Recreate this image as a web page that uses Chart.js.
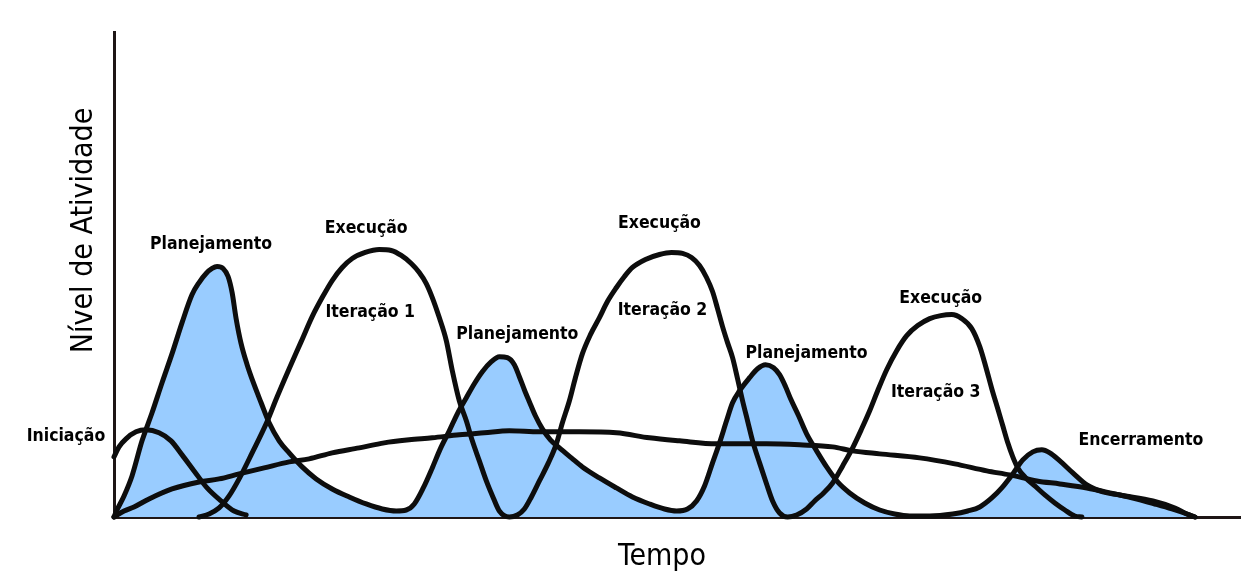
<!DOCTYPE html>
<html>
<head>
<meta charset="utf-8">
<script src="https://cdn.jsdelivr.net/npm/chart.js@4"></script>
<style>
  body { margin: 0; background: #fff; }
  canvas { display: block; }
</style>
</head>
<body>
<canvas id="myChart" width="1248" height="574"></canvas>
<script>
// DATA - x is time, y is activity level

// iniciacao
const iniciacao = [
  [115,60],[120,70],[127,78],[137,85],[147,87],[160,84],[172,76],[183,62],
  [195,46],[208,29],[222,16],[235,6],[247,2]
];

// planejamento 1 -> 2 -> 3 -> encerramento (one continuous drawn line, filled)
const planejamento = [
  [115,0],[117,5],[125,21],[133,41],[143,76],[153,104],[163,134],[173,163],
  [183,194],[193,222],[200,234],[207,243],[213,248],[218,250],[224,248],
  [229,240],[233,224],[237,198],[242,173],[248,152],[255,132],[262,114],
  [270,94],[280,76],[290,64],[303,50],[317,38],[333,28],[350,20],[367,13],
  [383,8],[397,6],[407,7],[415,13],[424,29],[433,49],[441,68],[450,86],
  [458,103],[467,119],[475,133],[483,145],[492,155],[500,160],[508,159],
  [515,152],[520,140],[525,127],[530,115],[536,101],[543,88],[551,77],
  [560,69],[572,59],[583,50],[600,39],[617,29],[633,20],[650,13],[665,8],
  [677,6],[688,8],[697,16],[705,31],[713,54],[720,74],[727,96],[733,114],
  [740,126],[750,139],[758,148],[766,152],[774,149],[780,142],[786,130],
  [791,118],[799,101],[807,83],[817,66],[827,50],[838,35],[850,24],[865,14],
  [880,7],[895,3],[910,1],[930,1],[953,3],[968,6],[980,10],[992,19],
  [1002,29],[1013,43],[1023,57],[1033,65],[1042,67],[1050,64],[1060,56],
  [1073,44],[1087,32],[1103,25],[1120,22],[1137,18],[1155,13],[1172,8],
  [1187,3],[1195,0]
];

// execucao - iteracao 1 -> 2 -> 3
const execucao = [
  [200,0],[210,3],[220,9],[230,21],[240,38],[253,64],[267,93],[278,120],
  [290,148],[302,175],[313,200],[323,219],[333,236],[343,249],[353,258],
  [366,264],[380,267],[392,266],[402,261],[412,253],[420,244],[427,233],
  [433,219],[440,199],[447,176],[453,146],[460,116],[467,96],[473,76],
  [480,56],[487,36],[494,19],[500,6],[510,0],[518,2],[525,8],[532,20],
  [540,36],[549,54],[557,73],[563,94],[570,116],[576,139],[583,163],
  [591,182],[600,199],[608,215],[617,229],[625,240],[633,249],[646,257],
  [660,262],[672,264],[683,263],[692,259],[700,251],[707,239],[713,225],
  [718,208],[723,190],[728,174],[733,159],[738,138],[743,116],[748,96],
  [753,76],[760,54],[767,33],[773,16],[780,4],[788,0],[797,2],[807,8],
  [815,16],[824,24],[833,34],[843,51],[853,69],[862,88],[870,106],[878,126],
  [887,147],[897,166],[907,181],[918,191],[930,198],[941,201],[952,202],
  [962,198],[972,188],[980,170],[986,150],[992,128],[998,108],[1003,91],
  [1008,74],[1013,60],[1018,49],[1026,39],[1035,31],[1045,22],[1055,14],
  [1065,7],[1075,1],[1082,0]
];

// long flat line across the whole project
const controle = [
  [115,0],[125,6],[135,10],[150,18],[173,28],[200,35],[220,38],[240,43],
  [265,49],[290,55],[310,58],[333,64],[360,69],[385,74],[410,77],[433,79],
  [460,82],[485,84],[510,86],[540,85],[580,85],[617,84],[650,79],[680,76],
  [717,73],[767,73],[800,72],[833,70],[853,66],[880,63],[920,59],[955,53],
  [987,46],[1010,42],[1037,36],[1060,33],[1087,29],[1120,22],[1153,16],
  [1175,9],[1187,3],[1195,0]
];

// text labels on the drawing
const labelTexts = ['Iniciação','Planejamento','Execução','Iteração 1','Planejamento',
  'Execução','Iteração 2','Planejamento','Execução','Iteração 3','Encerramento'];
const labelX = [67,212,367,371,518,660,663,807,941,936,1141];
const labelY = [80,272,288,204,182,293,206,163,218,124,76];

const xTitle = 'Tempo';
const yTitle = 'Nível de Atividade';
// END OF DATA //

const FONT = '"DejaVu Sans Condensed", "Liberation Sans Narrow", sans-serif';
const toPts = arr => arr.map(p => ({x: p[0], y: p[1]}));

function lineSet(label, pts, fill) {
  return {
    label: label,
    data: toPts(pts),
    borderColor: '#0d0d0d',
    borderWidth: 5,
    borderCapStyle: 'round',
    borderJoinStyle: 'round',
    pointRadius: 0,
    cubicInterpolationMode: 'monotone',
    fill: fill ? 'origin' : false,
    backgroundColor: '#99ccff',
    clip: false
  };
}

// draws the words on the picture
const textPlugin = {
  id: 'textPlugin',
  afterDatasetsDraw(chart) {
    const ctx = chart.ctx;
    const xs = chart.scales.x, ys = chart.scales.y;
    ctx.save();
    ctx.fillStyle = '#000';
    ctx.textAlign = 'center';
    ctx.textBaseline = 'middle';
    ctx.font = 'bold 17.5px ' + FONT;
    labelTexts.forEach((t, i) => {
      ctx.fillText(t, xs.getPixelForValue(labelX[i]), ys.getPixelForValue(labelY[i]));
    });
    // axis titles
    ctx.font = '30px ' + FONT;
    ctx.fillText(xTitle, (chart.chartArea.left + chart.chartArea.right) / 2 - 15, chart.chartArea.bottom + 40);
    ctx.translate(chart.chartArea.left - 30, ys.getPixelForValue(286));
    ctx.rotate(-Math.PI / 2);
    ctx.fillText(yTitle, 0, 0);
    ctx.restore();
  }
};

const axisOpts = (min, max) => ({
  type: 'linear',
  min: min,
  max: max,
  ticks: { display: false },
  grid: { display: false, drawTicks: false },
  border: { display: true, color: '#1e1616', width: 3 }
});

const config = {
  type: 'line',
  data: {
    datasets: [
      lineSet('Planejamento', planejamento, true),
      lineSet('Iniciação', iniciacao, false),
      lineSet('Execução', execucao, false),
      lineSet('Controle', controle, false)
    ]
  },
  options: {
    responsive: false,
    animation: false,
    layout: { padding: { left: 114, right: 8, top: 32, bottom: 57 } },
    scales: {
      x: axisOpts(115, 1240),
      y: axisOpts(0, 484)
    },
    plugins: {
      legend: { display: false },
      tooltip: { enabled: false },
      filler: { drawTime: 'beforeDatasetsDraw' }
    }
  },
  plugins: [textPlugin]
};

var myChart = new Chart(document.getElementById('myChart'), config);
</script>
</body>
</html>
